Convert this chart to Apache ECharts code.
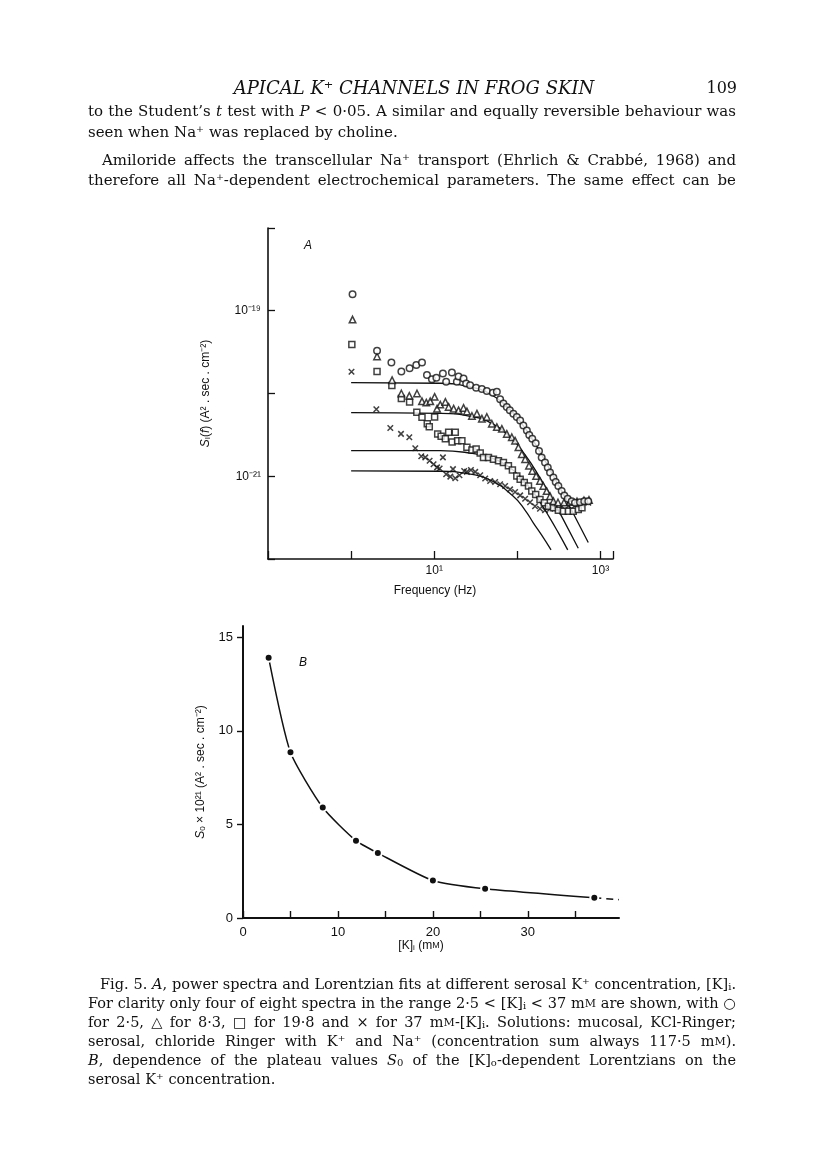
<!DOCTYPE html>
<html>
<head>
<meta charset="utf-8">
<script src="https://cdn.jsdelivr.net/npm/echarts@6.0.0/dist/echarts.min.js"></script>
<style>
html, body { margin: 0; padding: 0; background: #fff; }
#main { width: 816px; height: 1176px; }
</style>
</head>
<body>
<div id="main"></div>
<script>
// ---- Fig 5A: power spectra, f in Hz, S in units of 1e-21 A2.sec.cm-2 ----
var circF = [1.04, 2.05, 3.05, 4.02, 5.05, 6.08, 7.12, 8.17, 9.38, 10.6, 12.7, 13.9, 16.3, 18.7, 19.6, 22.5, 24.2, 27.0, 31.9, 37.4, 42.9, 50.7, 56.6, 62.0, 67.9, 74.6, 81.1, 89.5, 98.4, 108, 118, 130, 139, 151, 166, 182, 196, 215, 232, 247, 271, 289, 311, 341, 367, 403, 450, 493, 566, 637, 712];
var circS = [158, 32.8, 23.7, 18.4, 20.2, 22.1, 23.7, 16.7, 14.9, 15.5, 17.5, 13.9, 17.9, 13.9, 16.0, 15.2, 13.2, 12.6, 11.7, 11.3, 10.7, 10.2, 10.5, 8.52, 7.55, 6.88, 6.26, 5.70, 5.20, 4.72, 4.11, 3.57, 3.16, 2.83, 2.51, 2.02, 1.69, 1.47, 1.28, 1.11, 0.965, 0.852, 0.762, 0.662, 0.587, 0.535, 0.500, 0.478, 0.486, 0.500, 0.500];
var triF = [1.04, 2.05, 3.11, 4.02, 5.01, 6.20, 7.12, 8.02, 8.95, 10.1, 10.8, 11.8, 13.6, 14.9, 17.1, 19.6, 22.5, 24.7, 28.4, 32.6, 37.4, 42.9, 49.3, 56.6, 65.0, 74.6, 85.7, 93.8, 103, 113, 124, 138, 151, 168, 187, 205, 225, 247, 271, 308, 364, 429, 521, 632, 726];
var triS = [78.3, 28.0, 14.5, 10.0, 9.37, 10.0, 8.05, 7.77, 8.05, 9.12, 6.56, 7.34, 7.92, 6.88, 6.56, 6.26, 6.69, 6.08, 5.35, 5.70, 4.96, 5.20, 4.31, 3.93, 3.74, 3.25, 2.96, 2.69, 2.24, 1.85, 1.61, 1.34, 1.16, 1.01, 0.877, 0.762, 0.662, 0.575, 0.500, 0.482, 0.482, 0.489, 0.496, 0.510, 0.517];
var sqF = [1.02, 2.05, 3.09, 4.02, 5.05, 6.17, 7.12, 8.24, 8.71, 10.1, 11.0, 12.1, 13.6, 14.9, 16.4, 17.9, 19.1, 21.5, 24.7, 28.4, 31.9, 35.7, 39.1, 44.9, 51.5, 59.2, 67.9, 78.0, 87.1, 98.4, 108, 121, 136, 149, 166, 187, 211, 236, 271, 311, 357, 410, 470, 540, 598];
var sqS = [39.0, 18.5, 12.5, 8.69, 7.88, 5.95, 5.17, 4.31, 3.96, 5.20, 3.23, 3.05, 2.83, 3.41, 2.60, 3.41, 2.69, 2.69, 2.24, 2.08, 2.13, 1.91, 1.69, 1.69, 1.61, 1.54, 1.47, 1.34, 1.19, 1.01, 0.919, 0.838, 0.762, 0.662, 0.603, 0.524, 0.478, 0.435, 0.415, 0.388, 0.377, 0.377, 0.377, 0.396, 0.415];
var crF = [1.01, 2.01, 2.96, 3.98, 5.01, 5.91, 6.98, 7.80, 8.79, 9.81, 10.8, 11.6, 12.7, 13.9, 15.6, 16.8, 17.9, 20.1, 22.9, 24.7, 27.6, 31.1, 35.7, 41.0, 47.0, 54.0, 62.0, 71.2, 81.7, 93.8, 108, 124, 142, 163, 187, 215, 247, 284, 341, 410, 493, 593, 712];
var crS = [18.3, 6.44, 3.82, 3.25, 2.96, 2.18, 1.74, 1.69, 1.54, 1.40, 1.28, 1.24, 1.69, 1.06, 0.99, 1.22, 0.945, 1.03, 1.16, 1.13, 1.19, 1.13, 1.03, 0.937, 0.877, 0.852, 0.799, 0.762, 0.694, 0.644, 0.587, 0.535, 0.486, 0.435, 0.404, 0.388, 0.404, 0.415, 0.435, 0.435, 0.443, 0.456, 0.478];

// Lorentzian fit curves
var fitCircF = [1, 11.8, 27.0, 47.0, 77.3, 108, 163, 247, 344, 493, 712];
var fitCircS = [13.5, 13.3, 12.0, 9.86, 6.75, 4.59, 2.48, 1.20, 0.651, 0.324, 0.158];
var fitTriF = [1, 11.8, 27.0, 47.0, 82.8, 124, 187, 261, 347, 540];
var fitTriS = [5.87, 5.75, 5.30, 4.44, 2.93, 1.81, 0.959, 0.538, 0.316, 0.135];
var fitSqF = [1, 11.8, 27.0, 47.0, 71.2, 105, 142, 187, 240, 308, 403];
var fitSqS = [2.04, 2.04, 1.91, 1.69, 1.39, 1.02, 0.718, 0.486, 0.325, 0.211, 0.129];
var fitCrF = [1, 11.8, 27.0, 47.0, 87.9, 124, 156, 196, 254];
var fitCrS = [1.16, 1.15, 1.06, 0.902, 0.580, 0.388, 0.272, 0.194, 0.129];

// ---- Fig 5B: plateau S0 (x1e21) vs serosal [K] (mM) ----
var kConc = [2.7, 5.0, 8.4, 11.9, 14.2, 20.0, 25.5, 37.0];
var s0 = [13.9, 8.85, 5.9, 4.13, 3.47, 2.0, 1.56, 1.08];
var tailK = [37.0, 39.6];
var tailS = [1.08, 0.98];

var xTicksB = [0, 5, 10, 15, 20, 25, 30, 35];
var xLabelsB = [0, 10, 20, 30];
var yTicksB = [0, 5, 10, 15];

var sans = '"Liberation Sans", Arial, sans-serif';
var serif = '"DejaVu Serif", "Liberation Serif", serif';
var ink = '#111';

function pairs(xs, ys) {
  return xs.map(function (x, i) { return [x, ys[i]]; });
}

function fitLine(xs, ys) {
  return {
    type: 'line', xAxisIndex: 0, yAxisIndex: 0, data: pairs(xs, ys),
    smooth: 0.5, symbol: 'none', silent: true, z: 1,
    lineStyle: { color: ink, width: 1.3 }
  };
}
function dots(xs, ys, symbol, size, fill) {
  return {
    type: 'scatter', xAxisIndex: 0, yAxisIndex: 0, data: pairs(xs, ys),
    symbol: symbol, symbolSize: size, silent: true, z: 3,
    itemStyle: { color: fill, borderColor: ink, borderWidth: 1.5 }
  };
}

// ---- page text (justified by placing each word) ----
function textRich(size) {
  return {
    i: { font: 'italic ' + size + 'px ' + serif },
    sub: { font: Math.round(size * 0.7) + 'px ' + serif, verticalAlign: 'bottom', lineHeight: 6 },
    sc: { font: Math.round(size * 0.78) + 'px ' + serif }
  };
}
function measure(text, font, rich) {
  var t = new echarts.graphic.Text({ style: { text: text, font: font, rich: rich } });
  return t.getBoundingRect().width;
}
function textLine(str, x0, x1, y, size, justify) {
  var font = size + 'px ' + serif;
  var rich = textRich(size);
  var words = str.split(' ');
  var widths = words.map(function (w) { return measure(w, font, rich); });
  var total = widths.reduce(function (a, b) { return a + b; }, 0);
  var gap = justify ? (x1 - x0 - total) / (words.length - 1) : size * 0.33;
  var els = [];
  var x = x0;
  words.forEach(function (w, i) {
    els.push({
      type: 'text', x: x, y: y, silent: true,
      style: { text: w, font: font, rich: rich, fill: ink, verticalAlign: 'middle' }
    });
    x += widths[i] + gap;
  });
  return els;
}

var graphics = [
  { type: 'text', x: 414, y: 89, silent: true,
    style: { text: 'APICAL K\u207A CHANNELS IN FROG SKIN', font: 'italic 18px ' + serif, fill: ink, align: 'center', verticalAlign: 'middle' } },
  { type: 'text', x: 737, y: 89, silent: true,
    style: { text: '109', font: '16px ' + serif, fill: ink, align: 'right', verticalAlign: 'middle' } },
  { type: 'text', x: 308, y: 246, silent: true,
    style: { text: 'A', font: 'italic 12px ' + sans, fill: ink, align: 'center', verticalAlign: 'middle' } },
  { type: 'text', x: 303, y: 663, silent: true,
    style: { text: 'B', font: 'italic 12px ' + sans, fill: ink, align: 'center', verticalAlign: 'middle' } }
];
graphics = graphics
  .concat(textLine('to the Student\u2019s {i|t} test with {i|P} < 0\u00B705. A similar and equally reversible behaviour was', 88, 736, 112, 15, true))
  .concat(textLine('seen when Na\u207A was replaced by choline.', 88, 736, 133, 15, false))
  .concat(textLine('Amiloride affects the transcellular Na\u207A transport (Ehrlich & Crabb\u00E9, 1968) and', 102, 736, 161, 15, true))
  .concat(textLine('therefore all Na\u207A-dependent electrochemical parameters. The same effect can be', 88, 736, 181, 15, true))
  .concat(textLine('Fig. 5. {i|A}, power spectra and Lorentzian fits at different serosal K\u207A concentration, [K]{sub|i}.', 100, 736, 985, 14.5, true))
  .concat(textLine('For clarity only four of eight spectra in the range 2\u00B75 < [K]{sub|i} < 37 m{sc|M} are shown, with \u25CB', 88, 736, 1004, 14.5, true))
  .concat(textLine('for 2\u00B75, \u25B3 for 8\u00B73, \u25A1 for 19\u00B78 and \u00D7 for 37 m{sc|M}-[K]{sub|i}. Solutions: mucosal, KCl-Ringer;', 88, 736, 1023, 14.5, true))
  .concat(textLine('serosal, chloride Ringer with K\u207A and Na\u207A (concentration sum always 117\u00B75 m{sc|M}).', 88, 736, 1042, 14.5, true))
  .concat(textLine('{i|B}, dependence of the plateau values {i|S}{sub|0} of the [K]{sub|o}-dependent Lorentzians on the', 88, 736, 1061, 14.5, true))
  .concat(textLine('serosal K\u207A concentration.', 88, 736, 1080, 14.5, false));

function decade(v) {
  var e = Math.log10(v);
  return Math.abs(e - Math.round(e)) < 0.01 ? Math.round(e) : null;
}
var supMap = { '-': '\u207B', '0': '\u2070', '1': '\u00B9', '2': '\u00B2', '3': '\u00B3', '9': '\u2079' };
function sup(n) {
  return String(n).split('').map(function (c) { return supMap[c]; }).join('');
}

var nameRich = {
  it: { fontStyle: 'italic', fontFamily: sans, fontSize: 12, color: ink },
  sub: { fontFamily: sans, fontSize: 8, color: ink, verticalAlign: 'bottom', lineHeight: 5 }
};

var option = {
  backgroundColor: '#fff',
  animation: false,
  graphic: graphics,
  grid: [
    { left: 268, top: 228, width: 345, height: 331 },
    { left: 243, top: 626, width: 376, height: 292 }
  ],
  xAxis: [{
    gridIndex: 0, type: 'log', logBase: 10, min: 0.1, max: 1413,
    axisLine: { show: true, onZero: false, lineStyle: { color: ink, width: 1.6 } },
    axisTick: { show: true, inside: true, length: 8, lineStyle: { color: ink, width: 1.3 } },
    minorTick: { show: false },
    splitLine: { show: false },
    axisLabel: {
      show: true, margin: 6, color: ink, fontFamily: sans, fontSize: 12,
      formatter: function (v) { var e = decade(v); return (e === 1 || e === 3) ? '10' + sup(e) : ''; }
    },
    name: 'Frequency (Hz)', nameLocation: 'middle', nameGap: 26,
    nameTextStyle: { color: ink, fontFamily: sans, fontSize: 12, padding: [0, 11, 0, 0] }
  }, {
    gridIndex: 1, type: 'value', min: 0, max: 39.6,
    axisLine: { show: true, onZero: false, lineStyle: { color: ink, width: 2 } },
    axisTick: { show: true, inside: true, length: 7, customValues: xTicksB, lineStyle: { color: ink, width: 1.4 } },
    splitLine: { show: false },
    axisLabel: { show: true, margin: 8, customValues: xLabelsB, color: ink, fontFamily: sans, fontSize: 13 },
    name: '[K]{sub|i} (m{sc|M})', nameLocation: 'middle', nameGap: 14,
    nameTextStyle: {
      color: ink, fontFamily: sans, fontSize: 12, padding: [0, 20, 0, 0],
      rich: { sub: nameRich.sub, sc: { fontFamily: sans, fontSize: 9, color: ink } }
    }
  }],
  yAxis: [{
    // values in units of 1e-21, so 0.1 .. 1000 spans 1e-22 .. 1e-18
    gridIndex: 0, type: 'log', logBase: 10, min: 0.1, max: 1000,
    axisLine: { show: true, onZero: false, lineStyle: { color: ink, width: 1.6 } },
    axisTick: { show: true, inside: true, length: 7, lineStyle: { color: ink, width: 1.3 } },
    minorTick: { show: false },
    splitLine: { show: false },
    axisLabel: {
      show: true, margin: 7, color: ink, fontFamily: sans, fontSize: 12,
      formatter: function (v) {
        var e = decade(v);
        if (e === null) return '';
        e -= 21;
        return (e === -19 || e === -21) ? '10' + sup(e) : '';
      }
    },
    name: '{it|S}{sub|I}({it|f}) (A\u00B2 . sec . cm\u207B\u00B2)', nameLocation: 'middle', nameGap: 56,
    nameTextStyle: { color: ink, fontFamily: sans, fontSize: 12, rich: nameRich }
  }, {
    gridIndex: 1, type: 'value', min: 0, max: 15.6,
    axisLine: { show: true, onZero: false, lineStyle: { color: ink, width: 2 } },
    axisTick: { show: true, inside: false, length: 6, customValues: yTicksB, lineStyle: { color: ink, width: 1.4 } },
    splitLine: { show: false },
    axisLabel: { show: true, margin: 10, customValues: yTicksB, color: ink, fontFamily: sans, fontSize: 13 },
    name: '{it|S}{sub|0} \u00D7 10\u00B2\u00B9 (A\u00B2 . sec . cm\u207B\u00B2)', nameLocation: 'middle', nameGap: 36,
    nameTextStyle: { color: ink, fontFamily: sans, fontSize: 12, rich: nameRich }
  }],
  series: [
    fitLine(fitCircF, fitCircS),
    fitLine(fitTriF, fitTriS),
    fitLine(fitSqF, fitSqS),
    fitLine(fitCrF, fitCrS),
    dots(crF, crS, 'path://M0,0L10,10M10,0L0,10', 5.5, 'rgba(0,0,0,0)'),
    dots(sqF, sqS, 'rect', 6, '#fff'),
    dots(triF, triS, 'triangle', 6.5, '#fff'),
    dots(circF, circS, 'circle', 6.5, '#fff'),
    {
      type: 'line', xAxisIndex: 1, yAxisIndex: 1, data: pairs(tailK, tailS),
      symbol: 'none', silent: true, z: 2,
      lineStyle: { color: ink, width: 1.5, type: [7, 5] }
    },
    {
      type: 'line', xAxisIndex: 1, yAxisIndex: 1, data: pairs(kConc, s0),
      smooth: 0.2, symbol: 'circle', symbolSize: 8, silent: true, z: 3,
      itemStyle: { color: ink, borderColor: '#fff', borderWidth: 2 },
      lineStyle: { color: ink, width: 1.5 }
    }
  ]
};

var chart = echarts.init(document.getElementById('main'));
chart.setOption(option);
</script>
</body>
</html>
